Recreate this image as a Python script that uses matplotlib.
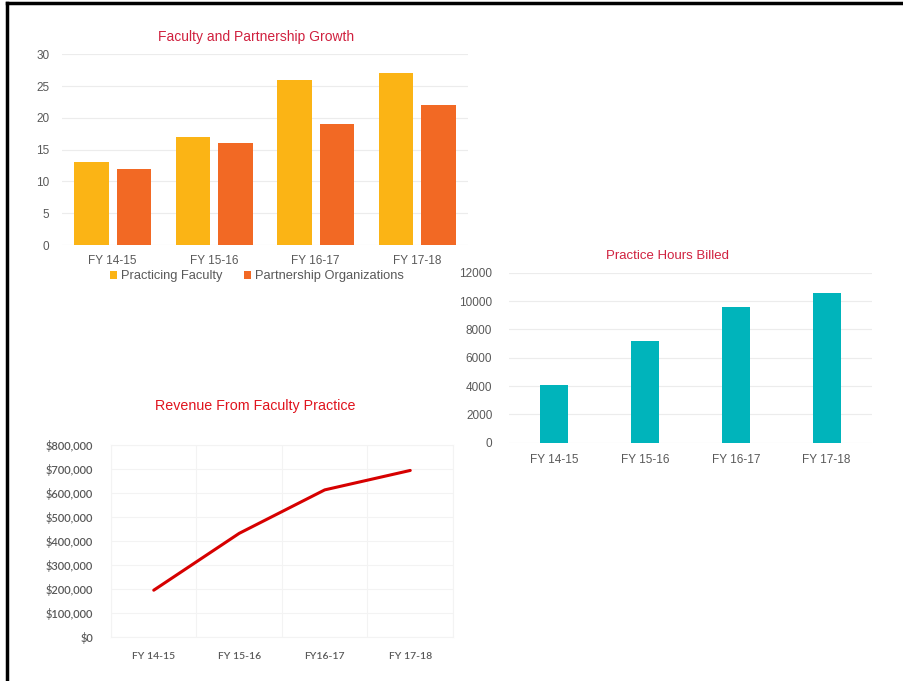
import matplotlib.pyplot as plt
from matplotlib.lines import Line2D
from matplotlib.ticker import FuncFormatter

plt.rcParams['font.family'] = ['Liberation Sans', 'DejaVu Sans']

# data
years = ["FY 14-15", "FY 15-16", "FY 16-17", "FY 17-18"]
faculty = [13, 17, 26, 27]
partners = [12, 16, 19, 22]
hours = [4100, 7150, 9600, 10550]
rev_years = ["FY 14-15", "FY 15-16", "FY16-17", "FY 17-18"]
revenue = [195000, 432000, 613000, 694000]

YEL = "#FBB415"
ORG = "#F26924"
TEAL = "#00B4BB"
TXT = "#595959"
GRID = "#ECECEC"

fig = plt.figure(figsize=(9.04, 6.81), dpi=100)
W, H = 904, 681


def box(x0, y0, x1, y1):
    return [x0 / W, 1 - y1 / H, (x1 - x0) / W, (y1 - y0) / H]


def clean(ax):
    for s in ax.spines.values():
        s.set_visible(False)
    ax.tick_params(length=0, colors=TXT, labelsize=8.5)
    ax.grid(axis="y", color=GRID, lw=0.8)
    ax.set_axisbelow(True)


# ---- Faculty and Partnership Growth ----
ax1 = fig.add_axes(box(62, 54.3, 468, 245))
x = range(len(years))
ax1.bar([i - 0.21 for i in x], faculty, width=0.34, color=YEL, label="Practicing Faculty")
ax1.bar([i + 0.21 for i in x], partners, width=0.34, color=ORG, label="Partnership Organizations")
ax1.set_xlim(-0.5, 3.5)
ax1.set_ylim(0, 30)
ax1.set_yticks(range(0, 31, 5))
ax1.set_xticks(list(x), years)
clean(ax1)
ax1.tick_params(axis="y", pad=9)
ax1.tick_params(axis="x", pad=7)
ax1.legend(loc="center", bbox_to_anchor=(0.48, -0.165), ncol=2, frameon=False,
           fontsize=9.3, handlelength=0.6, handleheight=0.6, handletextpad=0.3,
           columnspacing=1.6, labelcolor=TXT)
fig.text(256 / W, 1 - 37 / H, "Faculty and Partnership Growth", color="#D0213F",
         fontsize=10, ha="center", va="center")

# ---- Practice Hours Billed ----
ax2 = fig.add_axes(box(509, 272.7, 872, 442.7))
ax2.bar(list(x), hours, width=0.31, color=TEAL)
ax2.set_xlim(-0.5, 3.5)
ax2.set_ylim(0, 12000)
ax2.set_yticks(range(0, 12001, 2000))
ax2.set_xticks(list(x), years)
clean(ax2)
ax2.tick_params(axis="y", pad=12)
ax2.tick_params(axis="x", pad=8)
fig.text(668 / W, 1 - 255.7 / H, "Practice Hours Billed", color="#D0213F",
         fontsize=9.5, ha="center", va="center")

# ---- Revenue From Faculty Practice ----
ax3 = fig.add_axes(box(111, 445, 453, 637))
ax3.plot(list(x), revenue, color="#D60000", lw=2.2, solid_capstyle="round")
ax3.set_xlim(-0.5, 3.5)
ax3.set_ylim(0, 800000)
ax3.set_yticks(range(0, 800001, 100000))
ax3.yaxis.set_major_formatter(FuncFormatter(lambda v, p: f"${v:,.0f}"))
ax3.set_xticks([-0.5, 0.5, 1.5, 2.5, 3.5], minor=False)
ax3.set_xticklabels([])
ax3.set_xticks(list(x), minor=True)
ax3.set_xticklabels(rev_years, minor=True)
for s in ax3.spines.values():
    s.set_color("#F3F3F3")
    s.set_linewidth(0.8)
ax3.grid(which="major", color="#F3F3F3", lw=0.8)
ax3.set_axisbelow(True)
ax3.tick_params(which="both", length=0, colors=TXT)
ax3.tick_params(axis="y", labelsize=8, pad=13)
ax3.tick_params(axis="x", which="minor", labelsize=7.5, pad=11)
for lab in ax3.get_yticklabels() + ax3.get_xticklabels(minor=True):
    lab.set_family(["Lato", "DejaVu Sans"])
    lab.set_fontweight("semibold")
fig.text(255 / W, 1 - 405.7 / H, "Revenue From Faculty Practice", color="#E0141E",
         fontsize=10.3, ha="center", va="center")

# black frame on top and left edges
fig.add_artist(Line2D([7 / W, 1], [1 - 2.5 / H, 1 - 2.5 / H], color="black", lw=2.5))
fig.add_artist(Line2D([7 / W, 7 / W], [0, 1 - 2.5 / H], color="black", lw=2.5))

fig.savefig("out.png", dpi=100, facecolor="white")
